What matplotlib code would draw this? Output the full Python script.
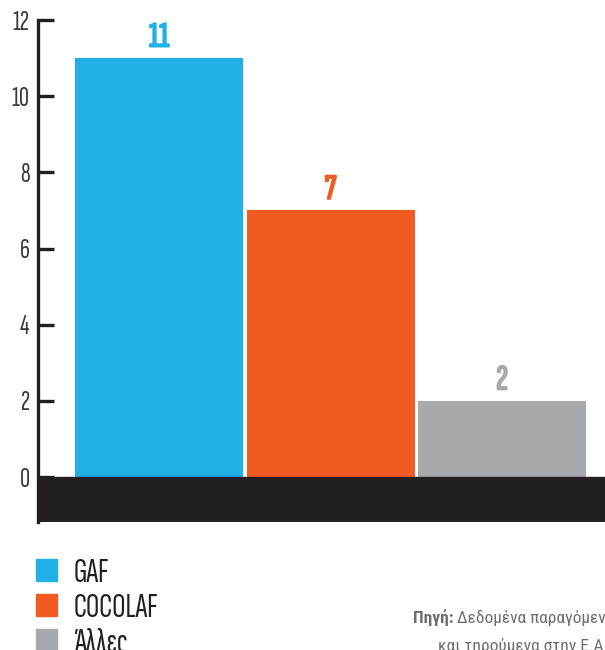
import matplotlib
matplotlib.use("Agg")
import matplotlib.pyplot as plt
import matplotlib.patheffects as pe
from matplotlib.patches import Patch

categories = ["GAF", "COCOLAF", "Άλλες"]
values = [11, 7, 2]
colors = ["#20B0E6", "#F15A22", "#A7A9AC"]
yticks = [0, 2, 4, 6, 8, 10, 12]
source_bold = "Πηγή:"
source_line1 = "Δεδομένα παραγόμενα"
source_line2 = "και τηρούμενα στην Ε.Α.Δ.Α."

plt.rcParams["font.family"] = ["Sofia Sans Extra Condensed", "DejaVu Sans"]
SRC_FONT = ["Roboto Condensed", "DejaVu Sans"]
dark = "#231F20"
grey_txt = "#6D6E71"

fig = plt.figure(figsize=(6.05, 6.5), dpi=100)
ax = fig.add_axes([38 / 605, 128 / 650, 1 - 38 / 605, 502 / 650])

x = range(len(categories))
ax.bar(x, values, width=0.98, color=colors, zorder=2)
ax.axhspan(-1.18, 0, color=dark, zorder=3)
ax.set_xlim(-0.706, 2.60)
ax.set_ylim(-1.18, 12)

# no bold cut of the condensed face, so thicken the numbers with a stroke
for xi, v, c in zip(x, values, colors):
    ax.text(xi, v + 0.12, str(v), ha="center", va="bottom", color=c, fontsize=25.5,
            path_effects=[pe.withStroke(linewidth=1.4, foreground=c)])

for s in ["top", "right", "bottom"]:
    ax.spines[s].set_visible(False)
ax.spines["left"].set_linewidth(2.4)
ax.spines["left"].set_color(dark)
ax.set_xticks([])
ax.set_yticks(yticks)
ax.tick_params(axis="y", direction="in", length=11.5, width=2.4, color=dark,
               labelsize=20, labelcolor="#3A3A3A", pad=6)

handles = [Patch(color=c, label=l) for c, l in zip(colors, categories)]
fig.legend(handles=handles, loc="upper left", bbox_to_anchor=(36 / 605, 1 - 558 / 650),
           frameon=False, fontsize=24, handlelength=0.63, handleheight=0.63,
           handletextpad=0.5, labelspacing=0.15, borderaxespad=0, borderpad=0,
           labelcolor=dark)

t1 = fig.text(413 / 605, 1 - 623 / 650, source_bold, fontsize=12.5, fontweight="bold",
              family=SRC_FONT, color=grey_txt, ha="left", va="baseline")
ax.annotate(source_line1, xy=(1, 0), xycoords=t1, xytext=(2.5, 0),
            textcoords="offset points", fontsize=12.5, family=SRC_FONT,
            color=grey_txt, va="bottom", annotation_clip=False)
fig.text(438 / 605, 1 - 651 / 650, source_line2, fontsize=12.5, family=SRC_FONT,
         color=grey_txt, ha="left", va="baseline")

fig.savefig("out.png", dpi=100)
